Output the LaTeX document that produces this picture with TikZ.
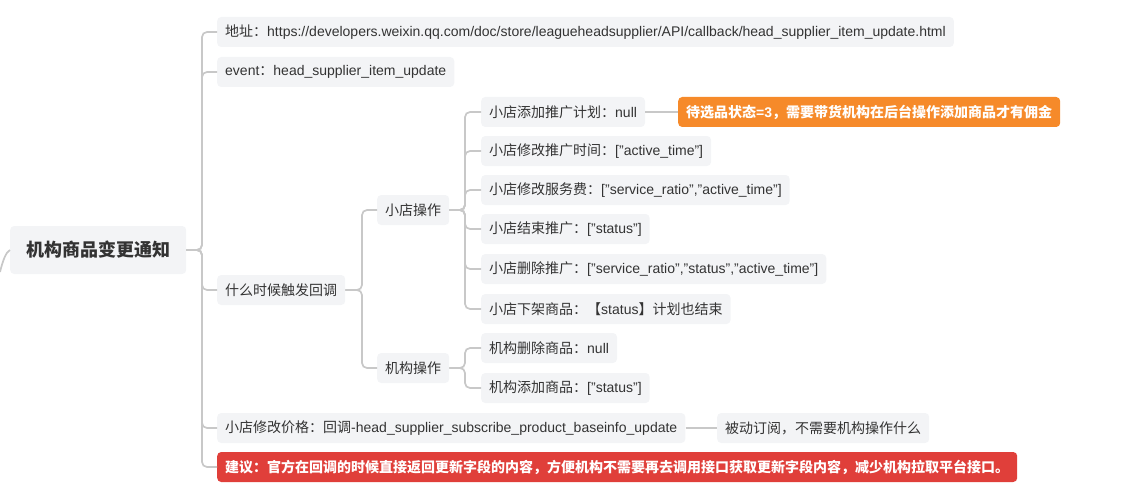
\documentclass[tikz,border=0pt]{standalone}
\usepackage{fontspec}
\setmainfont{Liberation Sans}
\newfontfamily\cjk{Noto Sans CJK SC}
\definecolor{boxfill}{HTML}{F3F4F6}
\definecolor{txt}{HTML}{333333}
\definecolor{lineg}{HTML}{C8C8C8}
\definecolor{orangefill}{HTML}{F68A2A}
\definecolor{redfill}{HTML}{E03F3A}
\tikzset{
  box/.style={fill=boxfill, rounded corners=4pt, inner xsep=8pt, inner ysep=0pt,
    minimum height=30pt, text=txt, font=\fontsize{14}{16}\selectfont, anchor=west},
  rootbox/.style={box, minimum height=48pt, inner xsep=16pt, font=\fontsize{18}{20}\selectfont\bfseries},
  hotbox/.style={box, text=white, font=\fontsize{14}{16}\selectfont\bfseries},
  conn/.style={draw=lineg, line width=1.7pt, rounded corners=5pt},
}
\begin{document}
\begin{tikzpicture}[x=1pt, y=-1pt]
\useasboundingbox (0,0) rectangle (1137,492);
% root
\node[rootbox] (root) at (10,250) {\cjk 机构商品变更通知};
\coordinate (stub) at (0,272);
% level 1
\node[box] (addr) at (217,32) {{\cjk 地址：}https://developers.weixin.qq.com/doc/store/leagueheadsupplier/API/callback/head\_supplier\_item\_update.html};
\node[box] (event) at (217,72) {event{\cjk ：}head\_supplier\_item\_update};
\node[box] (when) at (217,290) {\cjk 什么时候触发回调};
\node[box] (price) at (217,428) {{\cjk 小店修改价格：回调}-head\_supplier\_subscribe\_product\_baseinfo\_update};
\node[hotbox, fill=redfill] (advice) at (217,467) {\cjk 建议：官方在回调的时候直接返回更新字段的内容，方便机构不需要再去调用接口获取更新字段内容，减少机构拉取平台接口。};
% level 2
\node[box] (shop) at (377,210) {\cjk 小店操作};
\node[box] (org) at (377,368) {\cjk 机构操作};
% level 3
\node[box] (s1) at (481,112) {{\cjk 小店添加推广计划：}null};
\node[box] (s2) at (481,151) {{\cjk 小店修改推广时间：}["active\_time"]};
\node[box] (s3) at (481,190) {{\cjk 小店修改服务费：}["service\_ratio","active\_time"]};
\node[box] (s4) at (481,229) {{\cjk 小店结束推广：}["status"]};
\node[box] (s5) at (481,269) {{\cjk 小店删除推广：}["service\_ratio","status","active\_time"]};
\node[box] (s6) at (481,309) {{\cjk 小店下架商品：【}status{\cjk 】计划也结束}};
\node[box] (o1) at (481,348) {{\cjk 机构删除商品：}null};
\node[box] (o2) at (481,388) {{\cjk 机构添加商品：}["status"]};
% side notes
\node[hotbox, fill=orangefill] (note1) at (678,112) {{\cjk 待选品状态}=3{\cjk ，需要带货机构在后台操作添加商品才有佣金}};
\node[box] (note2) at (717,428) {\cjk 被动订阅，不需要机构操作什么};
% connectors
\draw[conn, rounded corners=0pt] (stub) .. controls (3,260) and (6,252) .. (root.west);
\foreach \c in {addr,event,when,price,advice}
  \draw[conn] (root.east) -- (202,250) |- (\c.west);
\foreach \c in {shop,org}
  \draw[conn] (when.east) -- (362,290) |- (\c.west);
\foreach \c in {s1,s2,s3,s4,s5,s6}
  \draw[conn] (shop.east) -- (465,210) |- (\c.west);
\foreach \c in {o1,o2}
  \draw[conn] (org.east) -- (465,368) |- (\c.west);
\draw[conn] (s1.east) -- (note1.west);
\draw[conn] (price.east) -- (note2.west);
\end{tikzpicture}
\end{document}
